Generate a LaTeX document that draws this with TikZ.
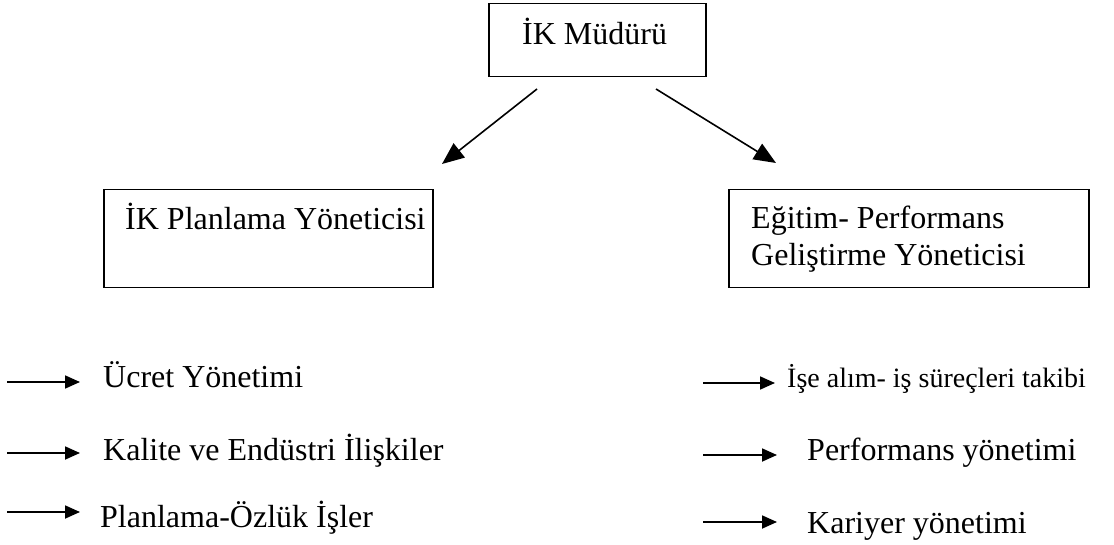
\documentclass[tikz,border=0pt]{standalone}
\usepackage{fontspec}
\setmainfont{Liberation Serif}
\usetikzlibrary{arrows.meta}
\begin{document}
\begin{tikzpicture}[x=1pt,y=-1pt,
  box/.style={draw,line width=1.5pt,inner sep=0pt,anchor=north west},
  lbl/.style={anchor=base west,inner sep=0pt,font=\fontsize{32}{37}\selectfont},
  small/.style={anchor=base west,inner sep=0pt,font=\fontsize{28}{32}\selectfont},
  conn/.style={line width=1.6pt,-{Triangle[length=22pt,width=18pt]}},
  itemarrow/.style={line width=1.8pt,-{Triangle[length=15pt,width=13pt]}}]
\useasboundingbox (0,0) rectangle (1114,545);

% boxes
\node[box,minimum width=217pt,minimum height=73pt] (mgr) at (488,3) {};
\node[box,minimum width=329pt,minimum height=98pt] (plan) at (103,189) {};
\node[box,minimum width=360pt,minimum height=98pt] (edu) at (728,189) {};

% box labels
\node[lbl] (mgrtxt) at (522,45) {İK Müdürü};
\node[lbl] (plantxt) at (125,230) {İK Planlama Yöneticisi};
\node[lbl] (edutxtA) at (751,229) {Eğitim- Performans};
\node[lbl] (edutxtB) at (751,266) {Geliştirme Yöneticisi};

% connectors from the manager
\coordinate (mgrL) at (537,89);
\coordinate (planT) at (442,164);
\coordinate (mgrR) at (656,89);
\coordinate (eduT) at (776,163);
\draw[conn] (mgrL) -- (planT);
\draw[conn] (mgrR) -- (eduT);

% left task list
\node[lbl] (t1) at (103,387) {Ücret Yönetimi};
\node[lbl] (t2) at (103,460) {Kalite ve Endüstri İlişkiler};
\node[lbl] (t3) at (100,527) {Planlama-Özlük İşler};
\coordinate (a1s) at (7,382);  \coordinate (a1e) at (80,382);
\coordinate (a2s) at (7,453);  \coordinate (a2e) at (80,453);
\coordinate (a3s) at (7,512);  \coordinate (a3e) at (80,512);
\draw[itemarrow] (a1s) -- (a1e);
\draw[itemarrow] (a2s) -- (a2e);
\draw[itemarrow] (a3s) -- (a3e);

% right task list
\node[small] (r1) at (787,388) {İşe alım- iş süreçleri takibi};
\node[lbl] (r2) at (807,460) {Performans yönetimi};
\node[lbl] (r3) at (807,533) {Kariyer yönetimi};
\coordinate (b1s) at (703,383);  \coordinate (b1e) at (775,383);
\coordinate (b2s) at (703,455);  \coordinate (b2e) at (777,455);
\coordinate (b3s) at (703,522);  \coordinate (b3e) at (777,522);
\draw[itemarrow] (b1s) -- (b1e);
\draw[itemarrow] (b2s) -- (b2e);
\draw[itemarrow] (b3s) -- (b3e);
\end{tikzpicture}
\end{document}
